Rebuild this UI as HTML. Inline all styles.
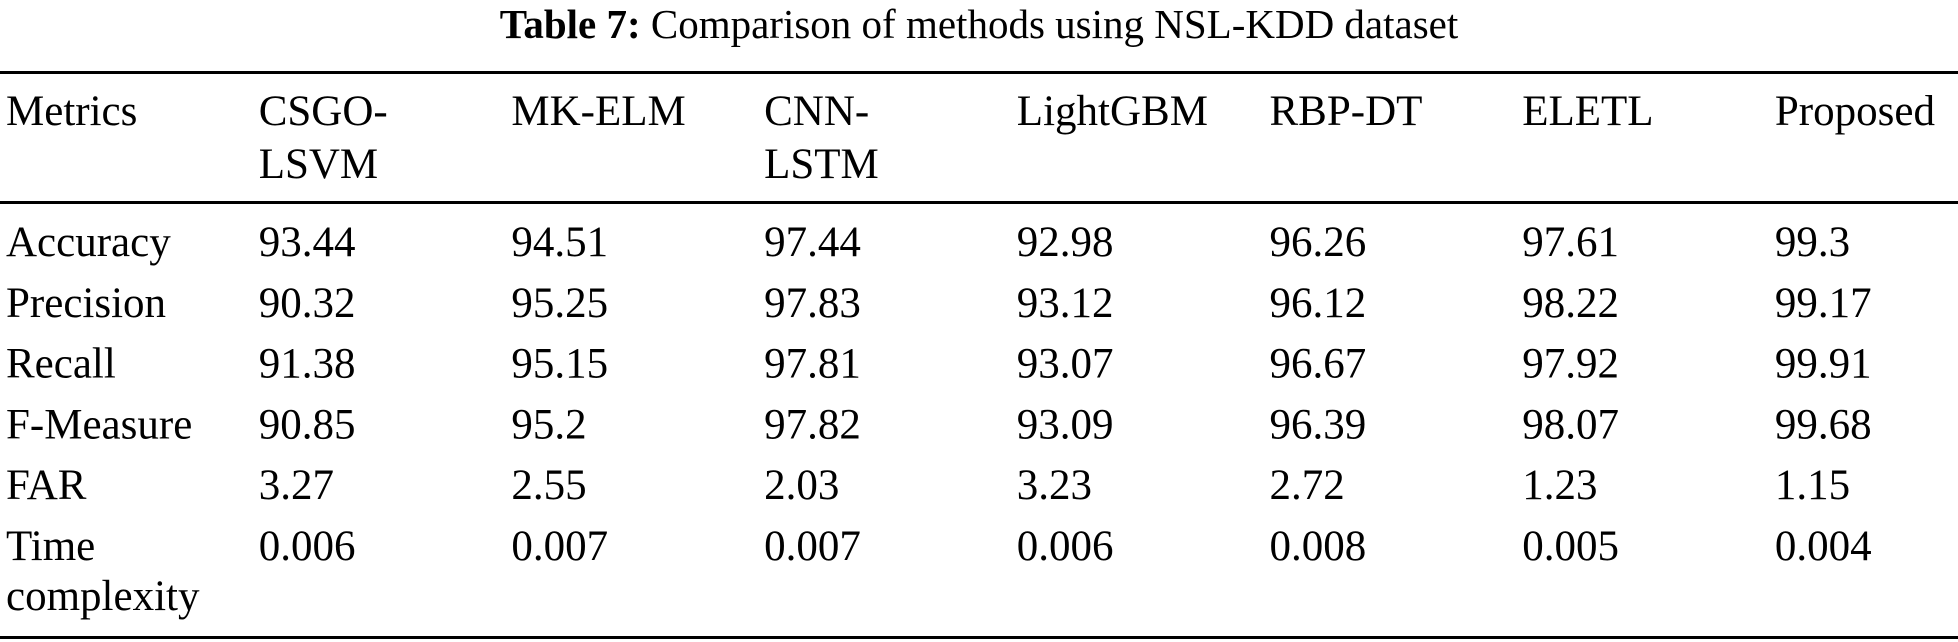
<!DOCTYPE html>
<html><head><meta charset="utf-8"><style>
html,body{margin:0;padding:0;background:#fff;}
svg{display:block;}
text{font-family:"Liberation Serif",serif;fill:#000;}
</style></head><body>
<svg id="tbl" width="1958" height="642" viewBox="0 0 1958 642" xmlns="http://www.w3.org/2000/svg">
<text x="979" y="38" text-anchor="middle" font-size="41"><tspan font-weight="bold">Table 7:</tspan>  Comparison of methods using NSL-KDD dataset</text>
<rect x="0" y="71" width="1958" height="3" fill="#000"/>
<rect x="0" y="201" width="1958" height="3" fill="#000"/>
<rect x="0" y="636" width="1958" height="3" fill="#000"/>
</svg>
<script>
const headers = [["Metrics"],["CSGO-","LSVM"],["MK-ELM"],["CNN-","LSTM"],["LightGBM"],["RBP-DT"],["ELETL"],["Proposed"]];
const metrics = [["Accuracy"],["Precision"],["Recall"],["F-Measure"],["FAR"],["Time","complexity"]];
const csgo = ["93.44","90.32","91.38","90.85","3.27","0.006"];
const mkelm = ["94.51","95.25","95.15","95.2","2.55","0.007"];
const cnnlstm = ["97.44","97.83","97.81","97.82","2.03","0.007"];
const lightgbm = ["92.98","93.12","93.07","93.09","3.23","0.006"];
const rbpdt = ["96.26","96.12","96.67","96.39","2.72","0.008"];
const eletl = ["97.61","98.22","97.92","98.07","1.23","0.005"];
const proposed = ["99.3","99.17","99.91","99.68","1.15","0.004"];
const svg = document.getElementById('tbl');
const NS = "http://www.w3.org/2000/svg";
const colX = i => 6 + i * 252.7;
const rowY = r => 256 + r * 60.8;
const lineH = 53;
function addText(x, y, s, name) {
  const t = document.createElementNS(NS, 'text');
  t.setAttribute('x', x);
  t.setAttribute('y', y);
  t.setAttribute('font-size', '43');
  
  
  t.textContent = s;
  svg.appendChild(t);
}
headers.forEach((h, i) => h.forEach((s, k) => addText(colX(i), 125 + k * lineH, s, 'column-header')));
const cols = [csgo, mkelm, cnnlstm, lightgbm, rbpdt, eletl, proposed];
metrics.forEach((m, r) => {
  m.forEach((s, k) => addText(colX(0), rowY(r) + k * 50, s, 'row-label'));
  cols.forEach((c, i) => addText(colX(i + 1), rowY(r), c[r], 'table-cell'));
});
</script>
</body></html>
